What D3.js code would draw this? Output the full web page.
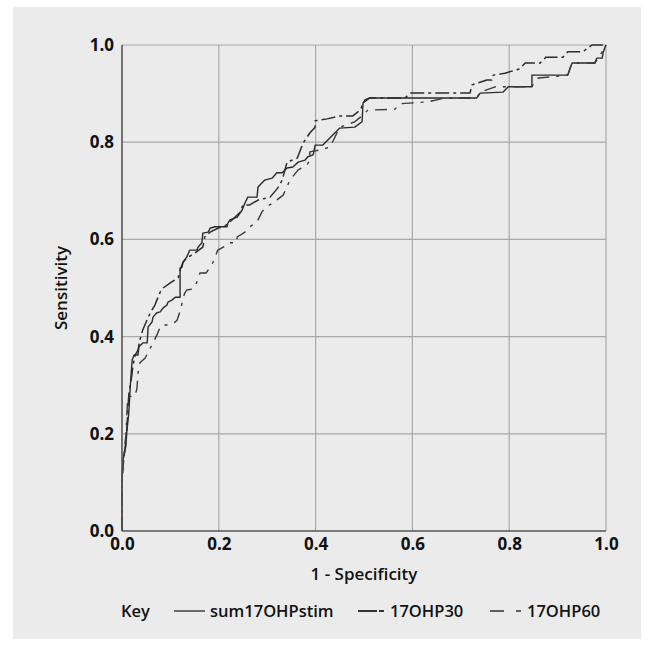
<!DOCTYPE html>
<html>
<head>
<meta charset="utf-8">
<script src="https://cdn.jsdelivr.net/npm/d3@7"></script>
<style>
  html, body { margin: 0; padding: 0; background: #ffffff; }
  svg { display: block; }
  text { font-family: "Open Sans", "Noto Sans", sans-serif; fill: #111; }
</style>
</head>
<body>
<svg id="chart" width="654" height="646"></svg>
<script>
// ---- data (false positive rate = 1 - specificity, true positive rate = sensitivity)
const seriesNames = ["sum17OHPstim", "17OHP30", "17OHP60"];
const tickValues = [0.0, 0.2, 0.4, 0.6, 0.8, 1.0];
const xLabel = "1 - Specificity";
const yLabel = "Sensitivity";
const legendTitle = "Key";

const fprStim = [0,0,0.002,0.008,0.010,0.014,0.017,0.019,0.021,0.025,0.033,0.035,0.043,0.052,0.054,0.062,0.064,0.072,0.079,0.085,0.093,0.095,0.103,0.110,0.120,0.120,0.124,0.126,0.134,0.140,0.155,0.157,0.165,0.167,0.178,0.182,0.192,0.217,0.219,0.223,0.238,0.248,0.254,0.260,0.279,0.281,0.295,0.310,0.320,0.331,0.341,0.353,0.364,0.378,0.384,0.395,0.399,0.415,0.450,0.481,0.496,0.498,0.512,0.733,0.740,0.787,0.798,0.847,0.847,0.921,0.926,0.930,0.977,0.981,0.992,0.994,0.998,1];
const tprStim = [0,0.113,0.146,0.175,0.204,0.243,0.296,0.325,0.352,0.362,0.362,0.379,0.387,0.387,0.420,0.430,0.440,0.449,0.451,0.459,0.465,0.471,0.475,0.481,0.481,0.541,0.543,0.553,0.564,0.578,0.578,0.584,0.593,0.613,0.615,0.623,0.626,0.626,0.634,0.640,0.646,0.660,0.675,0.687,0.687,0.708,0.722,0.726,0.737,0.737,0.747,0.749,0.759,0.763,0.770,0.774,0.794,0.794,0.829,0.831,0.842,0.881,0.891,0.891,0.901,0.903,0.914,0.914,0.938,0.938,0.953,0.963,0.963,0.973,0.973,0.984,0.996,1];

const fpr30 = [0,0,0.002,0.006,0.010,0.012,0.014,0.019,0.023,0.027,0.033,0.037,0.043,0.050,0.054,0.062,0.068,0.072,0.079,0.085,0.099,0.116,0.120,0.126,0.134,0.151,0.167,0.171,0.182,0.198,0.213,0.223,0.244,0.250,0.264,0.281,0.306,0.322,0.331,0.341,0.362,0.374,0.388,0.399,0.399,0.424,0.450,0.477,0.492,0.502,0.512,0.585,0.595,0.719,0.723,0.754,0.764,0.767,0.791,0.822,0.833,0.864,0.876,0.911,0.921,0.952,0.971,1];
const tpr30 = [0,0.105,0.136,0.167,0.208,0.249,0.280,0.311,0.342,0.362,0.372,0.393,0.414,0.430,0.440,0.455,0.465,0.475,0.492,0.500,0.510,0.521,0.537,0.553,0.562,0.572,0.584,0.605,0.615,0.623,0.628,0.636,0.656,0.671,0.671,0.681,0.687,0.706,0.722,0.759,0.767,0.798,0.819,0.831,0.844,0.848,0.854,0.854,0.866,0.887,0.891,0.891,0.901,0.901,0.918,0.928,0.928,0.938,0.942,0.951,0.963,0.963,0.975,0.975,0.986,0.986,1,1];

const fpr60 = [0,0,0.002,0.004,0.008,0.010,0.012,0.027,0.031,0.033,0.037,0.048,0.054,0.064,0.072,0.079,0.083,0.095,0.110,0.114,0.122,0.126,0.130,0.134,0.147,0.153,0.157,0.161,0.174,0.182,0.188,0.198,0.213,0.223,0.236,0.238,0.254,0.260,0.279,0.289,0.295,0.312,0.333,0.347,0.364,0.382,0.388,0.388,0.409,0.430,0.450,0.481,0.498,0.508,0.564,0.574,0.601,0.632,0.667,0.733,0.740,0.771,0.847,0.849,0.860,0.921,0.930,0.977,0.988,1];
const tpr60 = [0,0.095,0.126,0.156,0.198,0.239,0.276,0.278,0.294,0.325,0.346,0.356,0.368,0.387,0.403,0.420,0.424,0.424,0.430,0.434,0.459,0.479,0.490,0.496,0.498,0.508,0.519,0.531,0.531,0.543,0.553,0.578,0.586,0.593,0.593,0.605,0.615,0.623,0.636,0.656,0.665,0.675,0.691,0.722,0.743,0.753,0.763,0.780,0.784,0.790,0.831,0.842,0.856,0.866,0.868,0.879,0.881,0.883,0.891,0.891,0.903,0.914,0.914,0.918,0.932,0.938,0.963,0.963,0.979,1];

// ---- layout
const plot = { left: 122, right: 606, top: 45, bottom: 531 };
const svg = d3.select("#chart");

svg.append("rect").attr("x", 13).attr("y", 7).attr("width", 628).attr("height", 632)
  .attr("fill", "#ebebeb");

const x = d3.scaleLinear().domain([0, 1]).range([plot.left, plot.right]);
const y = d3.scaleLinear().domain([0, 1]).range([plot.bottom, plot.top]);

// grid
const grid = svg.append("g");
grid.selectAll("line.v").data(tickValues.filter(d => d > 0)).join("line")
  .attr("x1", d => x(d)).attr("x2", d => x(d)).attr("y1", y(0)).attr("y2", y(1))
  .attr("stroke", "#a9a9a9").attr("stroke-width", 1.2);
grid.selectAll("line.h").data(tickValues.filter(d => d > 0)).join("line")
  .attr("y1", d => y(d)).attr("y2", d => y(d)).attr("x1", x(0)).attr("x2", x(1))
  .attr("stroke", "#a9a9a9").attr("stroke-width", 1.2);

// curves
const series = [
  { name: seriesNames[0], fpr: fprStim, tpr: tprStim, dash: null, color: "#2b2b2b", width: 1.4 },
  { name: seriesNames[1], fpr: fpr30, tpr: tpr30, dash: "14,4,3,4", color: "#2b2b2b", width: 1.5 },
  { name: seriesNames[2], fpr: fpr60, tpr: tpr60, dash: "12,7,3,7", color: "#3a3a3a", width: 1.4 }
];
const line = d3.line().x(d => x(d[0])).y(d => y(d[1]));
series.forEach(s => {
  svg.append("path")
    .datum(s.fpr.map((f, i) => [f, s.tpr[i]]))
    .attr("d", line)
    .attr("fill", "none")
    .attr("stroke", s.color)
    .attr("stroke-width", s.width)
    .attr("stroke-dasharray", s.dash)
    .attr("stroke-linejoin", "round");
});

// axis lines
svg.append("line").attr("x1", x(0)).attr("x2", x(0)).attr("y1", y(0)).attr("y2", y(1))
  .attr("stroke", "#555").attr("stroke-width", 1.6);
svg.append("line").attr("x1", x(0)).attr("x2", x(1)).attr("y1", y(0)).attr("y2", y(0))
  .attr("stroke", "#555").attr("stroke-width", 1.6);

// tick labels via axes
const fmt = d3.format(".1f");
const gx = svg.append("g").attr("transform", `translate(0,${plot.bottom})`)
  .call(d3.axisBottom(x).tickValues(tickValues).tickFormat(fmt).tickSize(0).tickPadding(7));
const gy = svg.append("g").attr("transform", `translate(${plot.left},0)`)
  .call(d3.axisLeft(y).tickValues(tickValues).tickFormat(fmt).tickSize(0).tickPadding(8));
[gx, gy].forEach(g => {
  g.select(".domain").remove();
  g.selectAll("text").style("font-family", '"Open Sans", sans-serif')
    .style("font-size", "17px").style("font-weight", 700).attr("fill", "#111");
});

// axis titles
svg.append("text").attr("x", (plot.left + plot.right) / 2).attr("y", 580)
  .attr("text-anchor", "middle").style("font-size", "17px").style("font-weight", 600)
  .text(xLabel);
svg.append("text").attr("transform", `translate(67,${(plot.top + plot.bottom) / 2}) rotate(-90)`)
  .attr("text-anchor", "middle").style("font-size", "17px").style("font-weight", 600)
  .text(yLabel);

// legend
const ly = 611;
svg.append("text").attr("x", 121).attr("y", ly + 6).style("font-size", "16.5px").style("font-weight", 600).text(legendTitle);
const legendItems = [
  { sx: 174, ex: 205, tx: 210, dash: null, w: 1.4 },
  { sx: 358, ex: 385, tx: 390, dash: "19,2,5,40", w: 2.2 },
  { sx: 490, ex: 523, tx: 527, dash: "14,12,5,40", w: 1.4 }
];
legendItems.forEach((it, i) => {
  svg.append("line").attr("x1", it.sx).attr("x2", it.ex).attr("y1", ly).attr("y2", ly)
    .attr("stroke", "#333").attr("stroke-width", it.w).attr("stroke-dasharray", it.dash);
  svg.append("text").attr("x", it.tx).attr("y", ly + 6).style("font-size", "16.5px").style("font-weight", 600)
    .text(seriesNames[i]);
});
</script>
</body>
</html>
